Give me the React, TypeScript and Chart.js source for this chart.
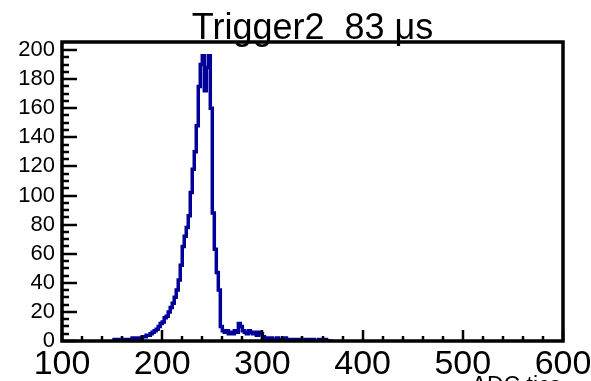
import React, { useEffect, useRef } from "react";
import { Chart, registerables } from "chart.js";

Chart.register(...registerables);

// ---- data & labels ----
const TITLE = "Trigger2  83 \u03bcs";
const X_TITLE = "ADC tics";
const X_MIN = 100;
const X_MAX = 600;
const X_STEP = 100;
const Y_MIN = 0;
const Y_MAX = 205.5;
const Y_STEP = 20;
const BIN_START = 150;
const BIN_WIDTH = 2;
// counts per bin (bin low edges 150, 152, 154, ...)
const COUNTS_LOW = [
  0, 0, 1, 0, 1, 1, 1, 0, 1, 1,
  1, 2, 1, 2, 2, 2, 3, 3, 4, 4,
  5, 6, 7, 8, 10, 12, 13, 16, 17, 20,
  23, 26, 30, 35, 42, 52, 65, 72, 78, 86,
];
const COUNTS_PEAK = [
  102, 118, 130, 148, 175, 190, 196, 172, 188, 196,
  160, 88, 63, 47, 35, 10, 7, 6, 7, 5,
];
const COUNTS_TAIL = [
  6, 5, 7, 6, 12, 10, 7, 6, 5, 7,
  6, 5, 6, 4, 6, 5, 3, 2, 2, 1,
  2, 1, 1, 2, 1, 1, 1, 2, 1, 1,
  0, 1, 1, 1, 1, 0, 1, 1, 0, 1,
  0, 1, 0, 0, 1, 0, 1, 1, 0, 0,
];

const COUNTS = [...COUNTS_LOW, ...COUNTS_PEAK, ...COUNTS_TAIL];

const LINE_COLOR = "#000099";
const FONT = "'Liberation Sans', Arial, Helvetica, sans-serif";

const rootFrame = {
  id: "rootFrame",
  afterDatasetsDraw(chart: any) {
    const { ctx, chartArea: a, scales } = chart;
    const xs = scales.x;
    const ys = scales.y;
    ctx.save();
    ctx.strokeStyle = "#000";
    ctx.lineCap = "butt";
    ctx.lineWidth = 2.5;
    ctx.beginPath();
    for (let v = X_MIN; v <= X_MAX; v += 20) {
      const px = Math.round(xs.getPixelForValue(v));
      const len = v % 100 === 0 ? 11 : 5;
      ctx.moveTo(px, a.bottom);
      ctx.lineTo(px, a.bottom - len);
    }
    for (let v = Y_MIN; v <= 200; v += 5) {
      const py = Math.round(ys.getPixelForValue(v));
      const len = v % 20 === 0 ? 15 : 7;
      ctx.moveTo(a.left, py);
      ctx.lineTo(a.left + len, py);
    }
    ctx.stroke();
    ctx.lineWidth = 3.5;
    ctx.strokeRect(a.left, a.top, a.right - a.left, a.bottom - a.top);

    ctx.fillStyle = "#000";
    ctx.font = `36px ${FONT}`;
    ctx.textAlign = "center";
    ctx.textBaseline = "alphabetic";
    ctx.fillText(TITLE, (a.left + a.right) / 2, 39);

    ctx.font = `23px ${FONT}`;
    ctx.textAlign = "right";
    ctx.fillText(X_TITLE, a.right - 2, 393);
    ctx.restore();
  },
};

export default function App() {
  const ref = useRef<HTMLCanvasElement>(null);
  useEffect(() => {
    if (!ref.current) return;
    const points = COUNTS.map((c, i) => ({ x: BIN_START + i * BIN_WIDTH, y: c }));
    points.push({ x: BIN_START + COUNTS.length * BIN_WIDTH, y: 0 });
    const chart = new Chart(ref.current, {
      type: "line",
      data: {
        datasets: [
          {
            data: points,
            borderColor: LINE_COLOR,
            backgroundColor: LINE_COLOR,
            borderWidth: 3.5,
            pointRadius: 0,
            stepped: "after",
            fill: false,
          },
        ],
      },
      options: {
        responsive: false,
        animation: false,
        layout: { padding: { top: 42, right: 28, left: 0, bottom: 0 } },
        plugins: { legend: { display: false }, tooltip: { enabled: false }, title: { display: false } },
        scales: {
          x: {
            type: "linear",
            min: X_MIN,
            max: X_MAX,
            grid: { display: false, drawTicks: false },
            border: { display: false },
            ticks: {
              stepSize: X_STEP,
              maxRotation: 0,
              includeBounds: false,
              color: "#000",
              padding: 3,
              font: { family: FONT, size: 34 },
            },
            afterFit(scale: any) {
              scale.height = 40;
              scale.paddingLeft = 0;
              scale.paddingRight = 0;
            },
          },
          y: {
            type: "linear",
            min: Y_MIN,
            max: Y_MAX,
            grid: { display: false, drawTicks: false },
            border: { display: false },
            ticks: {
              stepSize: Y_STEP,
              includeBounds: false,
              color: "#000",
              padding: 7,
              font: { family: FONT, size: 22 },
            },
            afterFit(scale: any) {
              scale.width = 62;
              scale.paddingTop = 0;
              scale.paddingBottom = 0;
            },
          },
        },
      },
      plugins: [rootFrame],
    });
    return () => chart.destroy();
  }, []);
  return (
    <div style={{ position: "fixed", left: 0, top: 0, width: 591, height: 381, background: "#fff" }}>
      <canvas ref={ref} width={591} height={381} />
    </div>
  );
}
